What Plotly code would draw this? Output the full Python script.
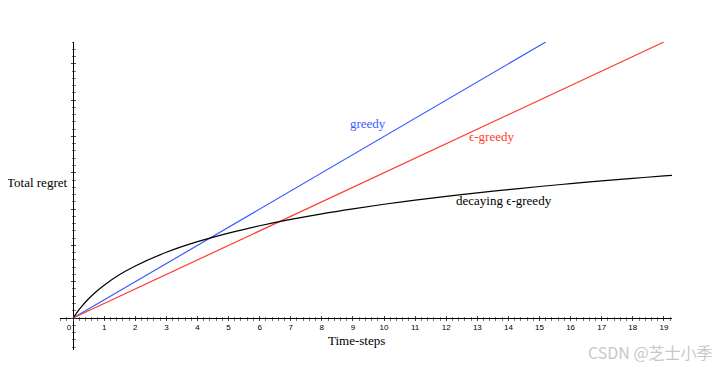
import plotly.graph_objects as go

# Data
greedy_x = [0, 15.2]
greedy_y = [0, 7.6]
eps_x = [0, 19.0]
eps_y = [0, 7.6]
decay_x = [0, 0.1, 0.25, 0.5, 0.75, 1, 1.5, 2, 3, 4, 5, 6, 7, 8, 9, 10,
           11, 12, 13, 14, 15, 16, 17, 18, 19, 19.3]
decay_y = [0, 0.124, 0.291, 0.530, 0.731, 0.905, 1.197, 1.435, 1.810, 2.102,
           2.340, 2.541, 2.716, 2.870, 3.007, 3.132, 3.245, 3.350, 3.447,
           3.537, 3.621, 3.700, 3.775, 3.845, 3.912, 3.932]
x_ticks = list(range(0, 20))
x_tick_labels = [str(v) for v in x_ticks]

XR = [-0.42, 19.26]
YR = [-0.88, 7.6]

# page body has an 8px margin; figure sized to fit inside the window
L, T, PW, PH = 52, 34, 612, 308
W, H = 711, 355

fig = go.Figure()
fig.add_trace(go.Scatter(x=greedy_x, y=greedy_y, mode="lines",
                         line=dict(color="#3b5bff", width=1.2), hoverinfo="skip"))
fig.add_trace(go.Scatter(x=eps_x, y=eps_y, mode="lines",
                         line=dict(color="#ff3b2f", width=1.2), hoverinfo="skip"))
fig.add_trace(go.Scatter(x=decay_x, y=decay_y, mode="lines",
                         line=dict(color="black", width=1.2, shape="spline"),
                         hoverinfo="skip"))

ypos = (0 - YR[0]) / (YR[1] - YR[0])
xpos = (0 - XR[0]) / (XR[1] - XR[0])

tickfont = dict(family="Liberation Sans Narrow, Liberation Sans, Arial", size=8, color="black")
tc = "#444"
shown_labels = [t + "\u2002\u2002" if t == "0" else t for t in x_tick_labels]

fig.update_layout(
    width=W, height=H,
    margin=dict(l=L, r=W - L - PW, t=T, b=H - T - PH),
    paper_bgcolor="white", plot_bgcolor="white",
    showlegend=False,
    xaxis=dict(range=XR, showgrid=False, zeroline=False, showline=True,
               linecolor="black", linewidth=1, anchor="free", position=ypos,
               tickmode="array", tickvals=x_ticks, ticktext=shown_labels,
               ticks="outside", ticklen=2, tickcolor=tc, tickwidth=1,
               tickfont=tickfont, ticklabelstandoff=-1,
               minor=dict(dtick=0.2, tick0=0, ticks="outside", ticklen=1.5,
                          tickcolor="#777", tickwidth=1)),
    xaxis2=dict(range=XR, overlaying="x", showgrid=False, zeroline=False,
                showline=False, anchor="free", position=ypos,
                tickmode="array", tickvals=x_ticks, showticklabels=False,
                ticks="inside", ticklen=2, tickcolor=tc, tickwidth=1,
                minor=dict(dtick=0.2, tick0=0, ticks="inside", ticklen=1.5,
                           tickcolor="#777", tickwidth=1)),
    yaxis=dict(range=YR, showgrid=False, zeroline=False, showline=True,
               linecolor="black", linewidth=1, anchor="free", position=xpos,
               dtick=1, tick0=0, showticklabels=False,
               ticks="outside", ticklen=2, tickcolor=tc, tickwidth=1,
               minor=dict(dtick=0.2, tick0=0, ticks="outside", ticklen=1.5,
                          tickcolor="#777", tickwidth=1)),
    yaxis2=dict(range=YR, overlaying="y", showgrid=False, zeroline=False,
                showline=False, anchor="free", position=xpos,
                dtick=1, tick0=0, showticklabels=False,
                ticks="inside", ticklen=2, tickcolor=tc, tickwidth=1,
                minor=dict(dtick=0.2, tick0=0, ticks="inside", ticklen=1.5,
                           tickcolor="#777", tickwidth=1)),
)

# invisible trace to activate overlay axes
fig.add_trace(go.Scatter(x=[0], y=[0], xaxis="x2", yaxis="y2", mode="markers",
                         marker=dict(opacity=0), hoverinfo="skip"))

serif = "Liberation Serif, Times New Roman, serif"
ann = [
    dict(text="Time-steps", x=9.1, y=-0.61, color="black"),
    dict(text="greedy", x=9.49, y=5.37, color="#3b5bff"),
    dict(text="ϵ-greedy", x=13.44, y=4.99, color="#ff3b2f"),
    dict(text="decaying ϵ-greedy", x=13.86, y=3.25, color="black"),
]
for a in ann:
    fig.add_annotation(x=a["x"], y=a["y"], xref="x", yref="y", text=a["text"],
                       showarrow=False, xanchor="center", yanchor="middle",
                       font=dict(family=serif, size=13, color=a["color"]))

def px_to_paper(sx, sy):
    fx, fy = sx - 8, sy - 8
    return (fx - L) / PW, (T + PH - fy) / PH

tx, ty = px_to_paper(37, 182)
fig.add_annotation(x=tx, y=ty, xref="paper", yref="paper", text="Total regret",
                   showarrow=False, xanchor="center", yanchor="middle",
                   font=dict(family=serif, size=13, color="black"))

wx, wy = px_to_paper(650, 352)
fig.add_annotation(x=wx, y=wy, xref="paper", yref="paper", text="CSDN @芝士小季",
                   showarrow=False, xanchor="center", yanchor="middle",
                   font=dict(family="Noto Sans CJK SC", size=16, color="#c8c8c8"))

fig.write_html("out.html")
